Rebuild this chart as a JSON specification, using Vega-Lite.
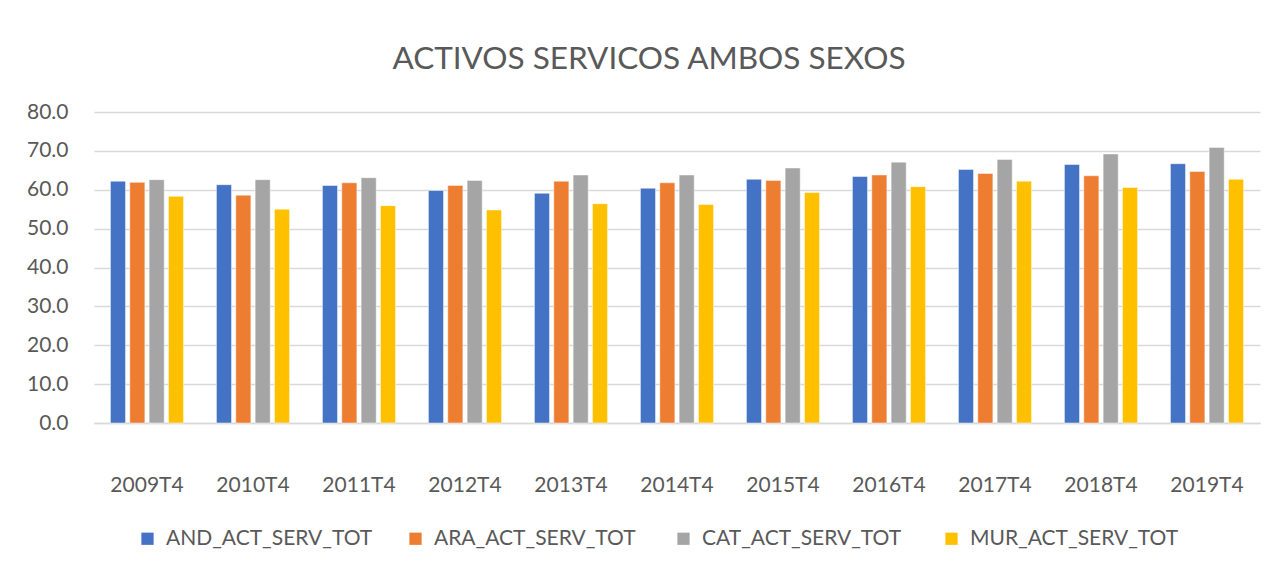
{
  "$schema": "https://vega.github.io/schema/vega-lite/v6.json",
  "width": 1166,
  "height": 311,
  "autosize": {"type": "none"},
  "padding": {"left": 94, "top": 112, "right": 19, "bottom": 144},
  "background": "white",
  "title": {
    "text": "ACTIVOS SERVICOS AMBOS SEXOS",
    "font": "Lato",
    "fontSize": 31.5,
    "fontWeight": "normal",
    "color": "#595959",
    "anchor": "middle",
    "dx": -28,
    "offset": 26
  },
  "data": {
    "values": [
      {"q": "2009T4", "s": "AND_ACT_SERV_TOT", "v": 62.2},
      {"q": "2009T4", "s": "ARA_ACT_SERV_TOT", "v": 61.9},
      {"q": "2009T4", "s": "CAT_ACT_SERV_TOT", "v": 62.6},
      {"q": "2009T4", "s": "MUR_ACT_SERV_TOT", "v": 58.3},
      {"q": "2010T4", "s": "AND_ACT_SERV_TOT", "v": 61.3},
      {"q": "2010T4", "s": "ARA_ACT_SERV_TOT", "v": 58.6},
      {"q": "2010T4", "s": "CAT_ACT_SERV_TOT", "v": 62.6},
      {"q": "2010T4", "s": "MUR_ACT_SERV_TOT", "v": 55.0},
      {"q": "2011T4", "s": "AND_ACT_SERV_TOT", "v": 61.1},
      {"q": "2011T4", "s": "ARA_ACT_SERV_TOT", "v": 61.8},
      {"q": "2011T4", "s": "CAT_ACT_SERV_TOT", "v": 63.1},
      {"q": "2011T4", "s": "MUR_ACT_SERV_TOT", "v": 55.9},
      {"q": "2012T4", "s": "AND_ACT_SERV_TOT", "v": 59.8},
      {"q": "2012T4", "s": "ARA_ACT_SERV_TOT", "v": 61.1},
      {"q": "2012T4", "s": "CAT_ACT_SERV_TOT", "v": 62.4},
      {"q": "2012T4", "s": "MUR_ACT_SERV_TOT", "v": 54.8},
      {"q": "2013T4", "s": "AND_ACT_SERV_TOT", "v": 59.1},
      {"q": "2013T4", "s": "ARA_ACT_SERV_TOT", "v": 62.2},
      {"q": "2013T4", "s": "CAT_ACT_SERV_TOT", "v": 63.8},
      {"q": "2013T4", "s": "MUR_ACT_SERV_TOT", "v": 56.4},
      {"q": "2014T4", "s": "AND_ACT_SERV_TOT", "v": 60.4},
      {"q": "2014T4", "s": "ARA_ACT_SERV_TOT", "v": 61.8},
      {"q": "2014T4", "s": "CAT_ACT_SERV_TOT", "v": 63.8},
      {"q": "2014T4", "s": "MUR_ACT_SERV_TOT", "v": 56.2},
      {"q": "2015T4", "s": "AND_ACT_SERV_TOT", "v": 62.7},
      {"q": "2015T4", "s": "ARA_ACT_SERV_TOT", "v": 62.4},
      {"q": "2015T4", "s": "CAT_ACT_SERV_TOT", "v": 65.6},
      {"q": "2015T4", "s": "MUR_ACT_SERV_TOT", "v": 59.3},
      {"q": "2016T4", "s": "AND_ACT_SERV_TOT", "v": 63.4},
      {"q": "2016T4", "s": "ARA_ACT_SERV_TOT", "v": 63.8},
      {"q": "2016T4", "s": "CAT_ACT_SERV_TOT", "v": 67.1},
      {"q": "2016T4", "s": "MUR_ACT_SERV_TOT", "v": 60.8},
      {"q": "2017T4", "s": "AND_ACT_SERV_TOT", "v": 65.2},
      {"q": "2017T4", "s": "ARA_ACT_SERV_TOT", "v": 64.2},
      {"q": "2017T4", "s": "CAT_ACT_SERV_TOT", "v": 67.8},
      {"q": "2017T4", "s": "MUR_ACT_SERV_TOT", "v": 62.2},
      {"q": "2018T4", "s": "AND_ACT_SERV_TOT", "v": 66.5},
      {"q": "2018T4", "s": "ARA_ACT_SERV_TOT", "v": 63.6},
      {"q": "2018T4", "s": "CAT_ACT_SERV_TOT", "v": 69.2},
      {"q": "2018T4", "s": "MUR_ACT_SERV_TOT", "v": 60.6},
      {"q": "2019T4", "s": "AND_ACT_SERV_TOT", "v": 66.7},
      {"q": "2019T4", "s": "ARA_ACT_SERV_TOT", "v": 64.7},
      {"q": "2019T4", "s": "CAT_ACT_SERV_TOT", "v": 70.9},
      {"q": "2019T4", "s": "MUR_ACT_SERV_TOT", "v": 62.7}
    ]
  },
  "mark": {"type": "bar", "stroke": "white", "strokeWidth": 0.8, "strokeOpacity": 0.6},
  "encoding": {
    "x": {
      "field": "q",
      "type": "nominal",
      "title": null,
      "scale": {"paddingInner": 0.31, "paddingOuter": 0.155},
      "axis": {
        "labelAngle": 0,
        "labelFont": "Lato",
        "labelFontSize": 21,
        "labelColor": "#595959",
        "labelPadding": 51,
        "ticks": false,
        "domainColor": "#d9d9d9",
        "domainWidth": 1.5,
        "grid": false
      }
    },
    "xOffset": {
      "field": "s",
      "type": "nominal",
      "scale": {"paddingInner": 0.22, "paddingOuter": 0}
    },
    "y": {
      "field": "v",
      "type": "quantitative",
      "title": null,
      "scale": {"domain": [0, 80], "nice": false},
      "axis": {
        "values": [0, 10, 20, 30, 40, 50, 60, 70, 80],
        "format": ".1f",
        "labelFont": "Lato",
        "labelFontSize": 21,
        "labelColor": "#595959",
        "labelPadding": 26,
        "ticks": false,
        "domain": false,
        "gridColor": "#d9d9d9",
        "gridWidth": 1.5
      }
    },
    "color": {
      "field": "s",
      "type": "nominal",
      "title": null,
      "scale": {
        "domain": ["AND_ACT_SERV_TOT", "ARA_ACT_SERV_TOT", "CAT_ACT_SERV_TOT", "MUR_ACT_SERV_TOT"],
        "range": ["#4472c4", "#ed7d31", "#a5a5a5", "#ffc000"]
      },
      "legend": {
        "orient": "none",
        "legendX": 43,
        "legendY": 416,
        "direction": "horizontal",
        "columns": 4,
        "gridAlign": "all",
        "symbolType": "square",
        "symbolSize": 150,
        "symbolStrokeWidth": 0,
        "labelFont": "Lato",
        "labelFontSize": 21,
        "labelLimit": 400,
        "labelColor": "#595959",
        "labelOffset": 8,
        "columnPadding": 30
      }
    }
  },
  "config": {
    "view": {"stroke": null}
  }
}
